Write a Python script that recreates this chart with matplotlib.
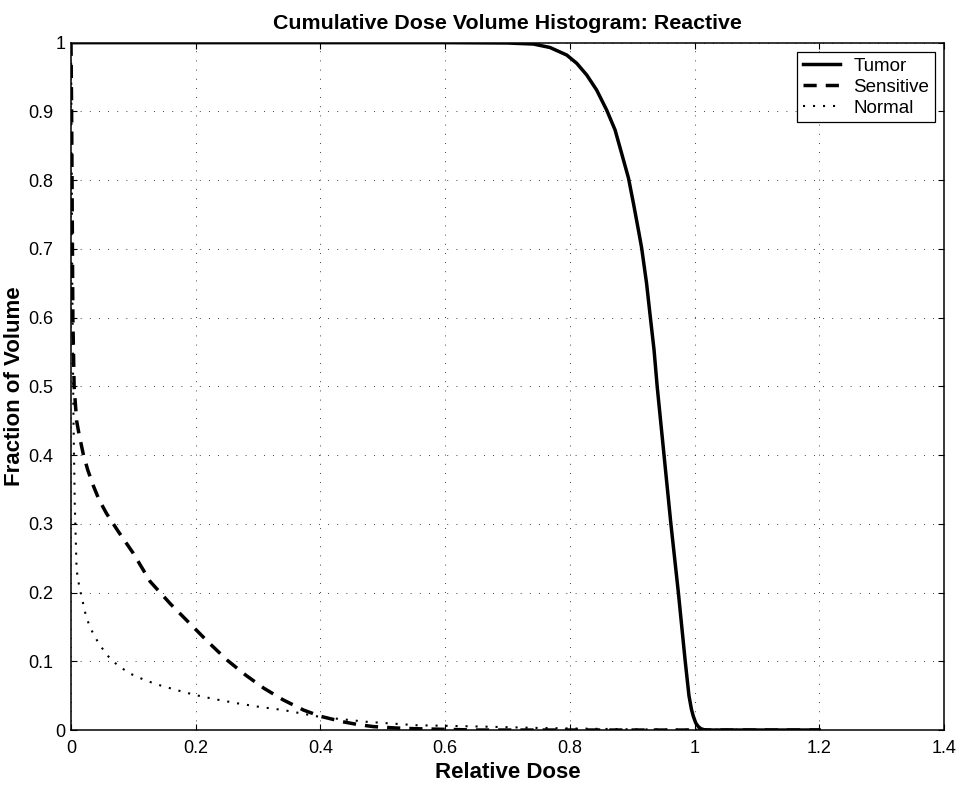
import numpy as np
import matplotlib
matplotlib.use("Agg")
import matplotlib.pyplot as plt
import matplotlib.transforms as mtransforms

plt.rcParams['font.family'] = ['Liberation Sans', 'DejaVu Sans']

# cumulative DVH curves
tumor_dose = [0, 0.6, 0.7, 0.7415, 0.768, 0.795, 0.811, 0.827, 0.843, 0.859, 0.8725,
              0.883, 0.894, 0.902, 0.910, 0.915, 0.923, 0.929, 0.935, 0.940, 0.951,
              0.962, 0.974, 0.985, 0.991, 0.995, 0.998, 1.002, 1.006, 1.010, 1.015,
              1.020, 1.2]
tumor_vol = [1, 1, 0.9995, 0.998, 0.993, 0.982, 0.970, 0.953, 0.931, 0.902, 0.873,
             0.839, 0.803, 0.766, 0.727, 0.702, 0.650, 0.601, 0.553, 0.5, 0.4,
             0.3, 0.2, 0.1, 0.05, 0.03, 0.02, 0.01, 0.005, 0.002, 0.0005,
             0, 0]

sens_dose = [0, 0.001, 0.002, 0.003, 0.005, 0.009, 0.013, 0.02, 0.027, 0.036, 0.045,
             0.057, 0.075, 0.1, 0.127, 0.16, 0.196, 0.22, 0.25, 0.28, 0.309, 0.34,
             0.373, 0.4, 0.436, 0.46, 0.485, 0.52, 0.55, 0.6, 0.65, 1.2]
sens_vol = [1, 0.9, 0.75, 0.6, 0.5, 0.45, 0.43, 0.40, 0.378, 0.355, 0.335,
            0.315, 0.29, 0.257, 0.216, 0.183, 0.150, 0.128, 0.102, 0.08, 0.061, 0.044,
            0.029, 0.02, 0.012, 0.008, 0.005, 0.003, 0.002, 0.001, 0, 0]

norm_dose = [0, 0.001, 0.002, 0.004, 0.006, 0.009, 0.013, 0.017, 0.023, 0.03, 0.045,
             0.06, 0.075, 0.095, 0.12, 0.143, 0.17, 0.199, 0.23, 0.266, 0.3, 0.341,
             0.4, 0.474, 0.554, 0.661, 0.75, 0.9, 1.2]
norm_vol = [1, 0.85, 0.65, 0.45, 0.33, 0.233, 0.21, 0.194, 0.17, 0.150, 0.125,
            0.107, 0.094, 0.082, 0.072, 0.065, 0.058, 0.051, 0.045, 0.039, 0.034, 0.029,
            0.019, 0.012, 0.007, 0.005, 0.003, 0.001, 0]

x_ticks = [0, 0.2, 0.4, 0.6, 0.8, 1.0, 1.2, 1.4]
y_ticks = [0, 0.1, 0.2, 0.3, 0.4, 0.5, 0.6, 0.7, 0.8, 0.9, 1.0]


fig = plt.figure(figsize=(9.62, 7.9), dpi=100)
ax = fig.add_axes([0.0738, 0.0759, 0.9075, 0.8701])

ax.plot(tumor_dose, tumor_vol, color='black', lw=2.5, ls='-', label='Tumor')
ax.plot(sens_dose, sens_vol, color='black', lw=2.5, dashes=(3.8, 2.6), label='Sensitive')
ax.plot(norm_dose, norm_vol, color='black', lw=1.5, ls=(0, (1, 3.8)), label='Normal')

ax.set_xlim(0, 1.4)
ax.set_ylim(0, 1)
ax.set_xticks(x_ticks)
ax.set_yticks(y_ticks)
ax.set_xticklabels([f"{v:g}" for v in x_ticks])
ax.set_yticklabels([f"{v:g}" for v in y_ticks])

ax.grid(True, color='black', lw=0.6, ls=(0, (1, 10)))
for s in ax.spines.values():
    s.set_linewidth(1.1)
ax.tick_params(direction='in', top=True, right=True, length=4.5, width=0.8,
               labelsize=13, pad=7)
ax.tick_params(axis='y', pad=4)

ax.set_title('Cumulative Dose Volume Histogram: Reactive', fontsize=15.4,
             fontweight='bold', pad=10)
ax.set_xlabel('Relative Dose', fontsize=16, fontweight='bold', labelpad=4)
ax.set_ylabel('Fraction of Volume', fontsize=16, fontweight='bold', labelpad=2.5)

leg = ax.legend(loc='upper right', fontsize=13.5, fancybox=False, framealpha=1,
                edgecolor='black', handlelength=2.0, handletextpad=0.7,
                labelspacing=0.2, borderaxespad=0.5, borderpad=0.3)
leg.get_frame().set_linewidth(0.9)

# MATLAB puts the decimal labels a bit further from the axis
shift = mtransforms.ScaledTranslation(-0.12, 0, fig.dpi_scale_trans)
for lab in ax.get_yticklabels():
    if '.' in lab.get_text():
        lab.set_transform(lab.get_transform() + shift)

fig.savefig('out.png', dpi=100)
